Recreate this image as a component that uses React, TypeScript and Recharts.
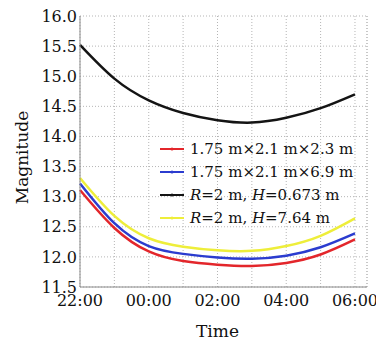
import { LineChart, Line, XAxis, YAxis, CartesianGrid, Legend, ReferenceLine } from 'recharts';

// hours after 22:00
const hours = [0, 1, 2, 3, 4, 5, 6, 7, 8];
const timeLabels = ['22:00', '', '00:00', '', '02:00', '', '04:00', '', '06:00'];
const yTicks = [11.5, 12.0, 12.5, 13.0, 13.5, 14.0, 14.5, 15.0, 15.5, 16.0];

const box23 = [13.11, 12.48, 12.09, 11.93, 11.87, 11.85, 11.9, 12.04, 12.29];
const box69 = [13.22, 12.56, 12.18, 12.05, 11.99, 11.97, 12.02, 12.16, 12.39];
const cyl0673 = [15.52, 14.96, 14.6, 14.39, 14.27, 14.23, 14.31, 14.47, 14.7];
const cyl764 = [13.31, 12.68, 12.31, 12.17, 12.11, 12.1, 12.18, 12.35, 12.64];

const series = [
  { key: 'a', name: '1.75 m×2.1 m×2.3 m', color: '#e3262b', values: box23 },
  { key: 'b', name: '1.75 m×2.1 m×6.9 m', color: '#2b3ccf', values: box69 },
  { key: 'c', name: 'R=2 m, H=0.673 m', color: '#141414', values: cyl0673 },
  { key: 'd', name: 'R=2 m, H=7.64 m', color: '#eeee3a', values: cyl764 },
];

const data = hours.map((h, i) => {
  const row: Record<string, number> = { h };
  series.forEach(s => { row[s.key] = s.values[i]; });
  return row;
});

const FONT = '"DejaVu Serif", serif';

function renderName(name: string) {
  const parts = name.split(/([RH])(?==)/);
  return parts.map((p, i) => (p === 'R' || p === 'H' ? <i key={i}>{p}</i> : <span key={i}>{p}</span>));
}

function LegendBox() {
  return (
    <div style={{ display: 'inline-block', padding: '1px 4px 1px 3px', fontFamily: FONT, fontSize: 15, color: '#111' }}>
      {series.map(s => (
        <div key={s.key} style={{ display: 'flex', alignItems: 'center', height: 23 }}>
          <svg width={24} height={6} style={{ marginRight: 6 }}>
            <line x1={0} y1={3} x2={24} y2={3} stroke={s.color} strokeWidth={2} />
            <circle cx={12} cy={3} r={1.5} fill={s.color} />
          </svg>
          <span style={{ whiteSpace: 'nowrap' }}>{renderName(s.name)}</span>
        </div>
      ))}
    </div>
  );
}

export default function App() {
  return (
    <div style={{ position: 'absolute', left: 0, top: 0, width: 376, height: 344, background: '#fff' }}>
      <LineChart width={376} height={344} data={data} margin={{ top: 16, right: 9, left: 0, bottom: 0 }}>
        <CartesianGrid stroke="#b5b5b5" strokeDasharray="1 2" />
        <ReferenceLine x={8.35} stroke="#b5b5b5" strokeDasharray="1 2" />
        <XAxis
          dataKey="h"
          type="number"
          domain={[0, 8.35]}
          ticks={hours}
          interval={0}
          tickFormatter={(v: number) => timeLabels[hours.indexOf(v)] ?? ''}
          height={57}
          tickLine={false}
          tickSize={0}
          tickMargin={8}
          axisLine={{ stroke: '#8a8a8a' }}
          tick={{ fill: '#111', fontSize: 16, fontFamily: FONT }}
          label={{ value: 'Time', position: 'insideBottom', offset: 7, dx: -6, fill: '#111', fontSize: 17, fontFamily: FONT }}
        />
        <YAxis
          type="number"
          domain={[11.5, 16]}
          ticks={yTicks}
          interval={0}
          tickFormatter={(v: number) => v.toFixed(1)}
          width={80}
          tickLine={false}
          tickSize={0}
          tickMargin={3}
          axisLine={{ stroke: '#8a8a8a' }}
          tick={{ fill: '#111', fontSize: 16, fontFamily: FONT }}
          label={{ value: 'Magnitude', angle: -90, position: 'center', dx: -18, dy: 6, fill: '#111', fontSize: 17, fontFamily: FONT }}
        />
        <Legend
          layout="vertical"
          align="center"
          verticalAlign="middle"
          content={() => <LegendBox />}
          wrapperStyle={{ position: 'absolute', left: 157, top: 136, width: 'auto' }}
        />
        {series.map(s => (
          <Line
            key={s.key}
            dataKey={s.key}
            name={s.name}
            type="natural"
            stroke={s.color}
            strokeWidth={2.5}
            dot={false}
            isAnimationActive={false}
          />
        ))}
      </LineChart>
    </div>
  );
}
